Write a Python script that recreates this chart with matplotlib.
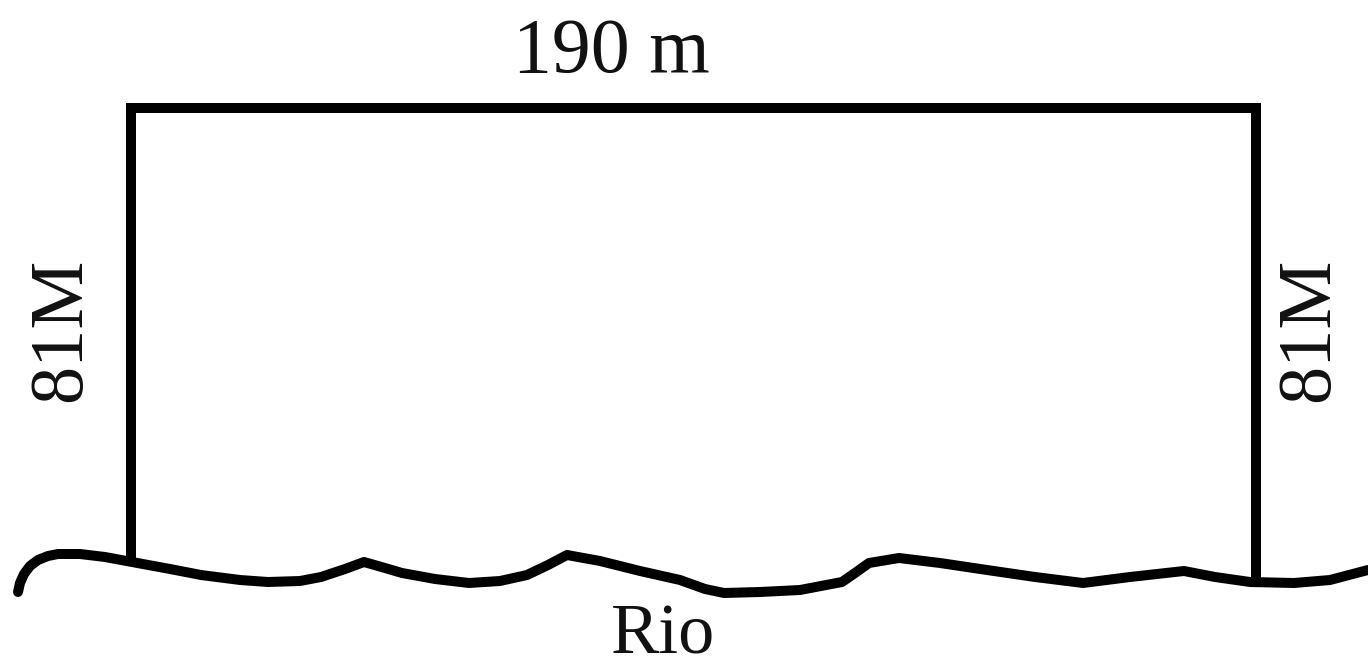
import matplotlib
matplotlib.use("Agg")
import matplotlib.pyplot as plt

# Diagram data (image pixel space: x to the right, y downward)
frame_x = [131, 131, 1256, 1256]
frame_y = [562, 108, 108, 580]

river_x = [18, 20, 24, 30, 38, 48, 58, 80, 105, 132, 170, 201, 240, 268, 300, 321, 345, 364,
           385, 402, 435, 469, 500, 527, 548, 567, 600, 640, 680, 705, 724, 760, 800,
           842, 855, 869, 899, 940, 987, 1035, 1083, 1130, 1184, 1215, 1250, 1294,
           1330, 1368]
river_y = [592, 583, 574, 566, 560, 556, 554, 554, 557, 562, 569, 575, 580, 582, 581, 577, 569, 562,
           568, 573, 579, 583, 581, 575, 565, 555, 561, 571, 580, 589, 593, 592, 590,
           582, 573, 563, 558, 563, 570, 577, 583, 577, 571, 577, 582, 583,
           580, 570]

top_label = "190 m"
side_label = "81M"
bottom_label = "Rio"

fig = plt.figure(figsize=(13.68, 6.66), dpi=100)
ax = fig.add_axes([0, 0, 1, 1])
ax.set_xlim(0, 1368)
ax.set_ylim(666, 0)
ax.axis("off")

lw = 7.2
ax.plot(frame_x, frame_y, color="black", lw=lw, solid_joinstyle="miter",
        solid_capstyle="butt")
ax.plot(river_x, river_y, color="black", lw=lw, solid_joinstyle="round",
        solid_capstyle="round")

font = dict(family=["Liberation Serif", "DejaVu Serif"], color="#111111")
ax.text(611, 72, top_label, fontsize=56, ha="center", va="baseline", **font)
ax.text(663, 653, bottom_label, fontsize=52, ha="center", va="baseline", **font)
ax.text(62, 330, side_label, fontsize=55, rotation=90, ha="center", va="center",
        rotation_mode="anchor", **font)
ax.text(1310, 330, side_label, fontsize=55, rotation=90, ha="center", va="center",
        rotation_mode="anchor", **font)

fig.savefig("out.png", dpi=100, facecolor="white")
